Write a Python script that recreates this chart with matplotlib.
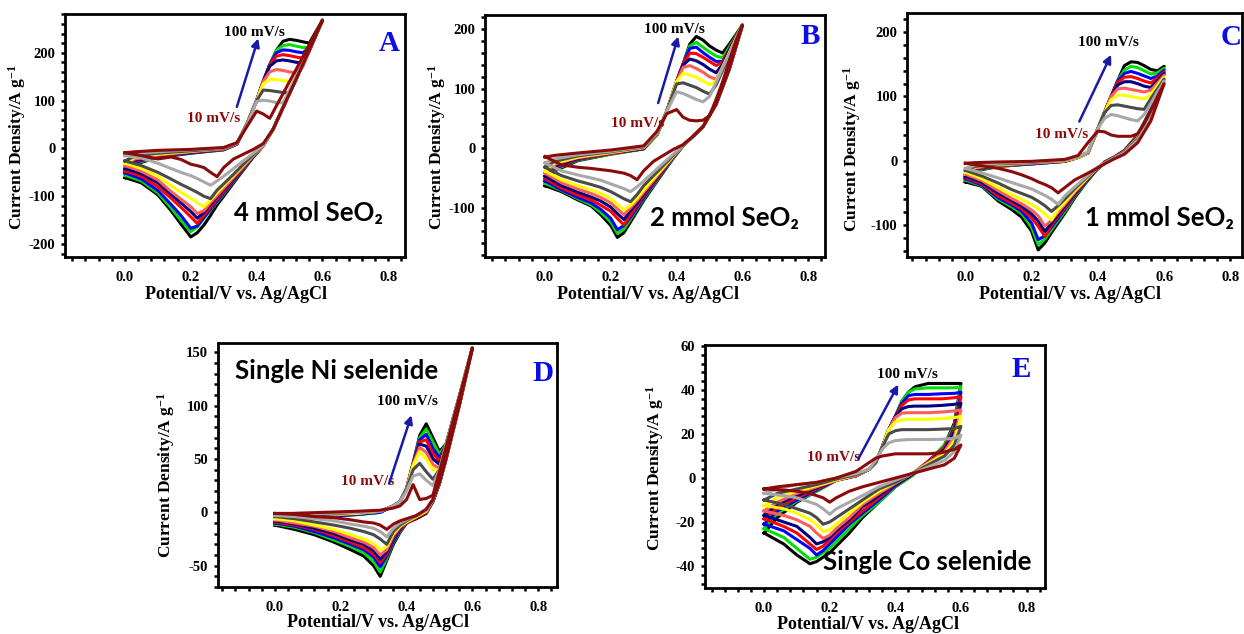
import matplotlib.pyplot as plt
from matplotlib.ticker import MultipleLocator, AutoMinorLocator

plt.rcParams['font.family'] = 'Liberation Serif'
plt.rcParams['font.weight'] = 'bold'
plt.rcParams['axes.unicode_minus'] = False
plt.rcParams['mathtext.fontset'] = 'custom'
plt.rcParams['mathtext.rm'] = 'Liberation Serif:bold'
plt.rcParams['mathtext.bf'] = 'Liberation Serif:bold'
plt.rcParams['mathtext.it'] = 'Liberation Serif:bold'

# scan rates (mV/s) and their colours, 10 -> 100
rates = [10, 20, 30, 40, 50, 60, 70, 80, 90, 100]
colors = ['#8b0a0a', '#a8a8a8', '#4a4a4a', '#ffff00', '#ff5c5c',
          '#000080', '#ff0000', '#0000ff', '#00e000', '#000000']

# ---------- panel A : 4 mmol SeO2 ----------
a_e_an = [0.0, 0.03, 0.1, 0.2, 0.3, 0.34, 0.37, 0.40, 0.42, 0.44, 0.46, 0.48, 0.50, 0.52, 0.54, 0.56, 0.58, 0.60]
a_j_an = [
    [-9, -7, -4, -2, 2, 12, 45, 78, 72, 63, 89, 114, 140, 165, 191, 217, 242, 268],
    [-15, -11, -7, -3, 1, 12, 48, 98, 101, 99, 96, 95, 122, 151, 180, 210, 239, 268],
    [-26, -16, -10, -5, 0, 11, 50, 100, 122, 121, 119, 117, 116, 144, 175, 206, 237, 268],
    [-31, -19, -12, -6, 0, 11, 50, 100, 135, 145, 144, 142, 140, 144, 176, 207, 237, 268],
    [-36, -22, -14, -7, -1, 10, 50, 100, 140, 160, 165, 163, 160, 158, 170, 203, 235, 268],
    [-42, -25, -15, -8, -1, 10, 50, 100, 140, 172, 183, 185, 183, 180, 179, 206, 237, 268],
    [-47, -27, -16, -8, -2, 10, 50, 100, 140, 175, 193, 196, 194, 191, 189, 208, 238, 268],
    [-51, -29, -17, -9, -2, 9, 50, 100, 140, 175, 200, 206, 205, 202, 200, 210, 239, 268],
    [-56, -31, -18, -9, -2, 9, 50, 100, 140, 175, 205, 215, 217, 214, 211, 211, 241, 268],
    [-61, -33, -19, -10, -3, 9, 50, 100, 140, 175, 205, 224, 228, 226, 223, 220, 244, 268],
]
a_e_ca = [0.60, 0.56, 0.52, 0.48, 0.45, 0.42, 0.39, 0.36, 0.33, 0.30, 0.28, 0.26, 0.24, 0.22, 0.20, 0.17, 0.14, 0.10, 0.05, 0.0]
a_j_ca = [
    [268, 205, 145, 85, 40, 10, -2, -12, -22, -40, -59, -50, -40, -36, -33, -23, -18, -22, -15, -9],
    [268, 205, 145, 85, 40, 6, -10, -26, -42, -58, -68, -77, -70, -63, -57, -50, -42, -31, -20, -15],
    [268, 205, 145, 85, 40, 6, -13, -33, -54, -74, -87, -105, -100, -92, -85, -75, -64, -50, -36, -26],
    [268, 205, 145, 85, 40, 6, -14, -35, -57, -78, -92, -108, -122, -114, -104, -92, -78, -58, -42, -31],
    [268, 205, 145, 85, 40, 6, -15, -38, -60, -83, -98, -113, -130, -136, -122, -106, -90, -66, -48, -36],
    [268, 205, 145, 85, 40, 6, -16, -39, -62, -86, -101, -117, -133, -146, -132, -114, -96, -72, -53, -42],
    [268, 205, 145, 85, 40, 6, -16, -41, -65, -90, -106, -123, -139, -157, -143, -123, -104, -80, -58, -47],
    [268, 205, 145, 85, 40, 6, -17, -42, -68, -93, -110, -127, -144, -162, -167, -140, -117, -88, -64, -51],
    [268, 205, 145, 85, 40, 6, -17, -43, -69, -95, -112, -129, -146, -164, -174, -150, -124, -93, -68, -56],
    [268, 205, 145, 85, 40, 5, -18, -45, -72, -100, -118, -140, -160, -176, -185, -158, -130, -97, -72, -61],
]

# ---------- panel B : 2 mmol SeO2 ----------
b_e_an = a_e_an
b_j_an = [
    [-15, -12, -8, -3, 4, 28, 58, 65, 52, 47, 46, 47, 55, 82, 112, 147, 180, 207],
    [-25, -18, -11, -5, 3, 25, 62, 95, 92, 87, 82, 78, 87, 111, 135, 159, 183, 207],
    [-32, -22, -13, -6, 2, 23, 62, 108, 110, 106, 102, 96, 91, 106, 131, 156, 181, 207],
    [-38, -25, -15, -7, 1, 22, 62, 112, 126, 123, 119, 113, 107, 113, 136, 160, 184, 207],
    [-42, -27, -16, -8, 1, 22, 62, 112, 136, 139, 134, 128, 120, 116, 137, 160, 184, 207],
    [-47, -30, -17, -8, 0, 22, 62, 112, 140, 150, 147, 141, 133, 127, 141, 164, 186, 207],
    [-51, -32, -18, -9, 0, 22, 62, 112, 142, 160, 159, 153, 146, 139, 145, 166, 187, 207],
    [-55, -34, -19, -9, -1, 22, 62, 112, 142, 168, 170, 161, 153, 146, 146, 166, 187, 207],
    [-59, -36, -20, -10, -1, 22, 62, 112, 142, 172, 178, 170, 162, 155, 152, 170, 189, 207],
    [-63, -38, -21, -10, -1, 22, 62, 112, 142, 175, 188, 182, 172, 165, 160, 175, 191, 207],
]
b_e_ca = a_e_ca
b_j_ca = [
    [207, 133, 74, 36, 20, 6, -2, -12, -22, -38, -53, -46, -42, -40, -38, -36, -34, -32, -28, -14],
    [207, 133, 74, 36, 20, 5, -10, -25, -40, -55, -65, -73, -68, -64, -60, -54, -50, -45, -38, -25],
    [207, 133, 74, 36, 20, 5, -12, -29, -46, -63, -78, -90, -85, -79, -73, -66, -61, -55, -46, -32],
    [207, 133, 74, 36, 20, 5, -13, -32, -51, -70, -84, -96, -104, -94, -85, -76, -70, -63, -53, -38],
    [207, 133, 74, 36, 20, 5, -14, -34, -54, -74, -88, -100, -112, -102, -92, -83, -76, -69, -58, -42],
    [207, 133, 74, 36, 20, 5, -14, -35, -56, -77, -92, -105, -120, -110, -99, -89, -82, -74, -63, -47],
    [207, 133, 74, 36, 20, 5, -15, -36, -58, -80, -96, -112, -129, -118, -106, -96, -87, -79, -67, -51],
    [207, 133, 74, 36, 20, 5, -15, -37, -60, -83, -100, -116, -130, -137, -118, -103, -92, -83, -70, -55],
    [207, 133, 74, 36, 20, 5, -16, -38, -62, -85, -102, -119, -136, -143, -124, -108, -95, -85, -71, -59],
    [207, 133, 74, 36, 20, 4, -17, -40, -64, -88, -106, -124, -142, -150, -130, -112, -97, -87, -73, -63],
]

# ---------- panel C : 1 mmol SeO2 ----------
c_e_an = a_e_an
c_j_an = [
    [-4, -3, -2, -1, 2, 8, 28, 46, 45, 40, 38, 38, 38, 42, 58, 78, 100, 120],
    [-12, -7, -4, -2, 1, 6, 14, 50, 66, 72, 70, 67, 64, 62, 72, 89, 107, 124],
    [-15, -9, -5, -3, 1, 6, 13, 50, 75, 86, 87, 85, 83, 81, 80, 97, 112, 127],
    [-18, -10, -6, -3, 0, 5, 12, 50, 75, 95, 102, 102, 100, 98, 96, 103, 117, 130],
    [-21, -11, -7, -4, 0, 5, 12, 50, 75, 100, 112, 113, 111, 109, 107, 110, 121, 133],
    [-24, -12, -7, -4, 0, 5, 12, 50, 75, 100, 118, 123, 123, 120, 116, 114, 125, 136],
    [-26, -13, -8, -4, -1, 5, 12, 50, 75, 100, 122, 130, 131, 128, 124, 121, 129, 138],
    [-28, -14, -8, -5, -1, 5, 12, 50, 75, 100, 124, 136, 139, 136, 132, 128, 132, 141],
    [-30, -15, -9, -5, -1, 5, 12, 50, 75, 100, 125, 141, 147, 145, 140, 135, 137, 144],
    [-33, -16, -9, -5, -1, 5, 12, 50, 75, 100, 125, 148, 154, 153, 148, 142, 140, 147],
]
c_e_ca = a_e_ca
c_j_ca = [
    [120, 62, 28, 10, 3, -5, -14, -22, -30, -42, -50, -42, -37, -33, -28, -22, -17, -12, -8, -4],
    [124, 68, 32, 12, 4, -4, -13, -27, -41, -55, -68, -60, -54, -49, -44, -39, -34, -27, -19, -12],
    [127, 70, 34, 13, 4, -4, -14, -29, -44, -60, -70, -79, -70, -63, -57, -51, -45, -35, -24, -15],
    [130, 72, 35, 13, 4, -4, -15, -31, -47, -65, -76, -92, -83, -75, -68, -60, -53, -42, -28, -18],
    [133, 74, 36, 14, 5, -4, -15, -32, -49, -68, -80, -93, -102, -86, -77, -67, -59, -47, -31, -21],
    [136, 75, 37, 14, 5, -4, -16, -33, -51, -71, -84, -97, -110, -94, -83, -71, -62, -51, -34, -24],
    [138, 76, 38, 15, 5, -3, -16, -34, -53, -74, -87, -100, -118, -102, -89, -75, -66, -55, -36, -26],
    [141, 77, 38, 15, 5, -3, -17, -35, -54, -76, -90, -103, -117, -123, -97, -79, -69, -58, -38, -28],
    [144, 78, 39, 15, 5, -3, -17, -36, -56, -79, -93, -107, -122, -131, -104, -82, -72, -60, -39, -30],
    [147, 80, 40, 16, 6, -2, -18, -37, -58, -82, -97, -112, -128, -139, -110, -88, -76, -63, -40, -33],
]

# ---------- panel D : single Ni selenide ----------
d_e_an = [0.0, 0.05, 0.15, 0.25, 0.32, 0.36, 0.38, 0.40, 0.42, 0.44, 0.46, 0.48, 0.50, 0.52, 0.54, 0.56, 0.58, 0.60]
d_j_an = [
    [-1, -1, 0, 1, 2, 4, 6, 12, 26, 12, 13, 16, 38, 61, 84, 107, 130, 154],
    [-3, -2, -1, 0, 1, 6, 10, 20, 34, 36, 30, 25, 40, 63, 86, 108, 131, 154],
    [-4, -3, -2, 0, 1, 6, 10, 22, 40, 46, 38, 31, 40, 63, 86, 108, 131, 154],
    [-6, -4, -2, -1, 1, 6, 10, 22, 44, 57, 50, 40, 40, 63, 86, 108, 131, 154],
    [-7, -5, -3, -1, 1, 6, 10, 22, 45, 61, 56, 45, 41, 63, 86, 108, 131, 154],
    [-8, -5, -3, -1, 1, 6, 10, 22, 45, 64, 62, 50, 45, 63, 86, 108, 131, 154],
    [-9, -6, -3, -1, 1, 6, 10, 22, 45, 66, 68, 55, 48, 63, 86, 108, 131, 154],
    [-10, -6, -4, -2, 0, 6, 10, 22, 46, 68, 73, 60, 51, 63, 86, 108, 131, 154],
    [-11, -7, -4, -2, 0, 6, 10, 22, 46, 70, 78, 66, 54, 64, 86, 108, 131, 154],
    [-12, -7, -4, -2, 0, 6, 10, 22, 46, 72, 83, 70, 57, 64, 86, 108, 131, 154],
]
d_e_ca = [0.60, 0.56, 0.52, 0.50, 0.48, 0.46, 0.43, 0.40, 0.38, 0.36, 0.34, 0.32, 0.30, 0.27, 0.23, 0.18, 0.12, 0.06, 0.0]
d_j_ca = [
    [154, 100, 50, 28, 12, 3, -3, -6, -8, -11, -16, -12, -10, -9, -7, -5, -4, -2, -1],
    [154, 100, 50, 28, 12, 2, -3, -7, -10, -15, -23, -18, -15, -13, -11, -8, -6, -4, -3],
    [154, 100, 50, 28, 12, 2, -3, -8, -12, -18, -30, -25, -21, -18, -15, -12, -9, -6, -4],
    [154, 100, 50, 28, 12, 1, -4, -9, -13, -20, -32, -35, -29, -25, -21, -16, -12, -8, -6],
    [154, 100, 50, 28, 11, 1, -4, -9, -14, -22, -35, -40, -33, -28, -24, -18, -13, -10, -7],
    [154, 100, 50, 28, 11, 1, -4, -9, -15, -24, -37, -44, -36, -30, -26, -20, -15, -11, -8],
    [154, 100, 50, 27, 11, 0, -5, -10, -16, -25, -39, -47, -39, -33, -28, -22, -16, -12, -9],
    [154, 100, 50, 27, 10, 0, -5, -10, -17, -27, -41, -51, -42, -35, -30, -24, -18, -13, -10],
    [154, 100, 50, 27, 10, 0, -5, -10, -18, -28, -43, -56, -46, -38, -32, -26, -19, -14, -11],
    [154, 100, 50, 27, 10, -1, -6, -10, -19, -30, -45, -60, -50, -41, -35, -28, -21, -16, -12],
]

# ---------- panel E : single Co selenide ----------
e_e_an = [0.0, 0.04, 0.1, 0.16, 0.22, 0.28, 0.32, 0.34, 0.36, 0.38, 0.40, 0.42, 0.44, 0.46, 0.50, 0.54, 0.58, 0.60]
e_j_an = [
    [-5, -4, -3, -2, 0, 3, 7, 9, 10, 10.5, 11, 11, 11, 11, 11, 11.5, 13, 15],
    [-7, -5, -3, -2, 0, 2, 4, 8, 13, 16, 17, 17.3, 17.5, 17.5, 17.5, 17.6, 18, 19.5],
    [-10, -7, -5, -3, -0.5, 1.5, 4, 7, 14, 20, 21.5, 22, 22, 22, 22, 22.2, 22.5, 23.5],
    [-12.5, -9, -6, -3.5, -1, 1.5, 4, 7, 14, 22, 25.5, 26.5, 26.7, 26.7, 26.7, 27, 27.5, 28],
    [-15, -11, -7, -4, -1, 1, 4, 7, 14, 22, 27.5, 29.5, 29.7, 29.7, 29.7, 30, 30.5, 31],
    [-17, -12, -8, -4.5, -1, 1, 4, 7, 14, 22, 28, 31.5, 32.5, 32.7, 32.7, 33, 33.5, 34],
    [-18.5, -13.5, -9, -5, -1, 1, 4, 7, 14, 22, 28, 33, 35.5, 36, 36, 36, 36.5, 37],
    [-21, -15, -10, -5.5, -1, 1, 4, 7, 14, 22, 28, 34, 37.5, 38, 38, 38.3, 38.5, 39],
    [-23, -16, -10.5, -6, -1, 1, 4, 7, 14, 22, 28, 35, 39, 40.5, 41, 41, 41, 41.5],
    [-25, -18, -11, -6, -1, 1, 4, 7, 14, 22, 28, 35, 39, 41.5, 43, 43, 43, 43],
]
e_e_ca = [0.60, 0.58, 0.55, 0.50, 0.45, 0.40, 0.35, 0.30, 0.26, 0.22, 0.20, 0.18, 0.16, 0.14, 0.10, 0.06, 0.0]
e_j_ca = [
    [15, 9, 6, 4, 2, 0, -2, -4, -6, -9, -11, -9, -8, -7, -6, -5.5, -5],
    [19.5, 12, 8, 5, 2, -1, -4, -8, -11, -14, -16.5, -14, -12, -11, -9, -8, -7],
    [23.5, 15, 10, 6, 2, -2, -5, -10, -14, -18, -20, -21, -18, -16, -14, -12, -10],
    [28, 17, 11, 6.5, 2, -2, -6, -11, -16, -21, -23.5, -24.5, -21, -19, -16, -14, -12.5],
    [31, 19, 12, 7, 2, -2.5, -7, -12, -18, -23, -26, -27.5, -25, -22, -19, -17, -15],
    [34, 21, 13, 7, 1.5, -3, -8, -13, -19, -24, -27, -29, -30, -27, -22, -20, -17],
    [37, 22, 14, 7.5, 1.5, -3, -9, -15, -20, -25, -28, -31, -32.5, -30, -25, -22, -18.5],
    [39, 23, 14, 7.5, 1.5, -3.5, -10, -16, -21, -27, -30, -33, -35, -32, -28, -24, -21],
    [41.5, 24, 15, 7.5, 1, -4, -11, -17, -23, -29, -32, -34, -36, -37, -32, -27, -23],
    [43, 25, 15, 7, 1, -4, -11, -18, -25, -31, -34, -36, -38, -39, -35, -30, -25],
]

fig = plt.figure(figsize=(12.44, 6.34), dpi=100)
arrow_col = '#1a1aa8'
sans = ['Lato', 'DejaVu Sans']


def panel(rect, e_an, j_an, e_ca, j_ca, xlim, ylim, ystep, letter, letter_pos,
          name, name_pos, t100, t10, arr, ylab_pos, xlab_pos):
    ax = fig.add_axes(rect)
    for i in range(len(rates) - 1, -1, -1):
        ax.plot(list(e_an) + list(e_ca), list(j_an[i]) + list(j_ca[i]),
                color=colors[i], lw=2.2, solid_joinstyle='round')
    ax.set_xlim(xlim)
    ax.set_ylim(ylim)
    ax.set_xticks([0.0, 0.2, 0.4, 0.6, 0.8])
    ax.set_xticklabels(['0.0', '0.2', '0.4', '0.6', '0.8'])
    ax.xaxis.set_minor_locator(AutoMinorLocator(5))
    ax.yaxis.set_major_locator(MultipleLocator(ystep))
    ax.yaxis.set_minor_locator(AutoMinorLocator(5))
    for s in ax.spines.values():
        s.set_linewidth(2.0)
    ax.tick_params(which='both', direction='out', length=3, width=1.8,
                   top=False, right=False, labelsize=10.5)
    ax.tick_params(axis='x', which='major', pad=7)
    ax.tick_params(axis='y', which='major', pad=4)
    ax.set_xlabel('Potential/V vs. Ag/AgCl', fontsize=13, fontweight='bold')
    ax.set_ylabel('Current Density/A g$^{-1}$', fontsize=12.5, fontweight='bold')
    ax.yaxis.set_label_coords(*ylab_pos)
    ax.xaxis.set_label_coords(*xlab_pos)
    ax.text(letter_pos[0], letter_pos[1], letter, transform=ax.transAxes,
            ha='right', va='center', color='#0c0ce6', fontsize=21, fontweight='bold')
    ax.text(name_pos[0], name_pos[1], name, ha='left', va='center',
            family=sans, fontsize=18.5, fontweight='bold', color='black')
    ax.text(t100[0], t100[1], '100 mV/s', ha='left', va='center',
            fontsize=11, fontweight='bold', color='black')
    ax.text(t10[0], t10[1], '10 mV/s', ha='left', va='center',
            fontsize=11, fontweight='bold', color=colors[0])
    ax.annotate('', xy=arr[1], xytext=arr[0],
                arrowprops=dict(arrowstyle='-|>', color=arrow_col, lw=1.8,
                                mutation_scale=12, shrinkA=0, shrinkB=0))
    return ax


panel([0.0523, 0.5946, 0.2733, 0.3833], a_e_an, a_j_an, a_e_ca, a_j_ca,
      (-0.182, 0.851), (-227, 281), 100, 'A', (0.985, 0.88),
      '4 mmol SeO\u2082', (0.33, -136), (0.30, 243), (0.19, 63),
      ((0.34, 87), (0.405, 230)), (-0.11, 0.453), (0.503, -0.118))

panel([0.3899, 0.5946, 0.2733, 0.3817], b_e_an, b_j_an, b_e_ca, b_j_ca,
      (-0.182, 0.851), (-183, 224), 100, 'B', (0.985, 0.91),
      '2 mmol SeO\u2082', (0.32, -117), (0.30, 200), (0.20, 41),
      ((0.344, 76), (0.405, 188)), (-0.11, 0.453), (0.48, -0.119))

panel([0.7291, 0.5946, 0.2693, 0.3849], c_e_an, c_j_an, c_e_ca, c_j_ca,
      (-0.176, 0.835), (-150, 230), 100, 'C', (1.0, 0.90),
      '1 mmol SeO\u2082', (0.36, -89), (0.34, 184), (0.21, 40.5),
      ((0.344, 61), (0.44, 165)), (-0.13, 0.443), (0.486, -0.118))

panel([0.1752, 0.0741, 0.2725, 0.3849], d_e_an, d_j_an, d_e_ca, d_j_ca,
      (-0.173, 0.857), (-70, 158.7), 50, 'D', (0.99, 0.877),
      'Single Ni selenide', (-0.12, 132), (0.31, 104), (0.20, 29),
      ((0.347, 27), (0.415, 91)), (-0.12, 0.459), (0.472, -0.11))

panel([0.5667, 0.0726, 0.2733, 0.3833], e_e_an, e_j_an, e_e_ca, e_j_ca,
      (-0.18, 0.856), (-50, 60.5), 20, 'E', (0.96, 0.897),
      'Single Co selenide', (0.18, -38), (0.343, 47), (0.13, 9.3),
      ((0.287, 8.6), (0.409, 42.5)), (-0.115, 0.494), (0.48, -0.114))

fig.savefig('out.png', dpi=100)
